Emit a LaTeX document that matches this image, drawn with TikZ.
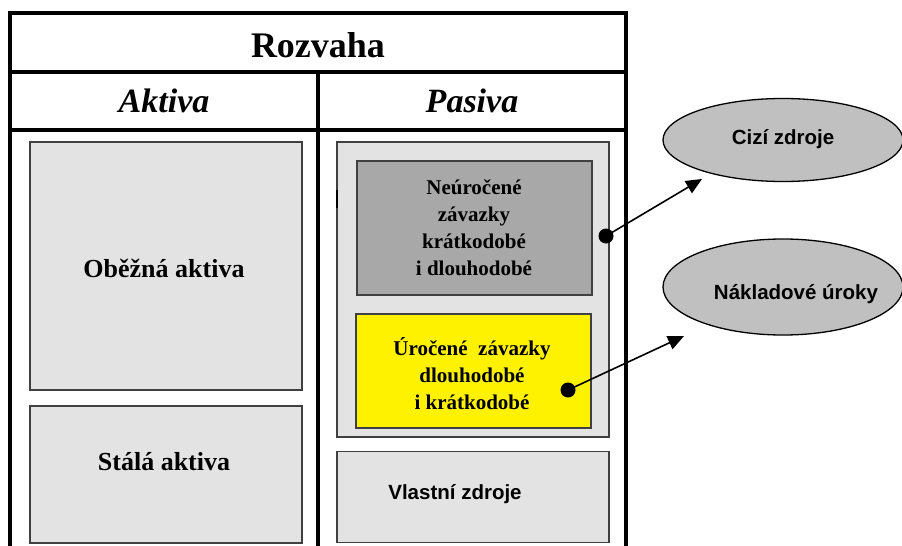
\documentclass[tikz,border=0pt]{standalone}
\usepackage{fontspec}
\setmainfont{Liberation Serif}
\setsansfont{Liberation Sans}
\usetikzlibrary{arrows.meta}
\definecolor{lightbox}{HTML}{E3E3E3}
\definecolor{darkbox}{HTML}{A8A8A8}
\definecolor{ellfill}{HTML}{C0C0C0}
\definecolor{boxline}{HTML}{404040}
\tikzset{
  frame/.style={line width=3.5pt, black},
  panel/.style={draw=boxline, line width=1.3pt, rectangle, inner sep=0pt},
  serifbig/.style={font=\bfseries\fontsize{36}{40}\selectfont, inner sep=0pt},
  serifhead/.style={font=\bfseries\itshape\fontsize{34}{38}\selectfont, inner sep=0pt},
  serifmid/.style={font=\bfseries\fontsize{26}{30}\selectfont, inner sep=0pt},
  seriftxt/.style={font=\bfseries\fontsize{21}{27}\selectfont, align=center, inner sep=0pt},
  sanstxt/.style={font=\sffamily\bfseries\fontsize{20.5}{24}\selectfont, inner sep=0pt},
  oval/.style={draw=black, line width=1.3pt, fill=ellfill, ellipse},
  dotmark/.style={circle, fill=black, inner sep=0pt, minimum size=15pt},
  conn/.style={line width=1.6pt, -{Triangle[length=16pt,width=14pt]}},
}
\usetikzlibrary{shapes.geometric}
\begin{document}
\begin{tikzpicture}[x=1pt,y=-1pt]
\clip (0,0) rectangle (902,546);
\fill[white] (0,0) rectangle (902,546);
% table frame
\draw[frame] (10,546) -- (10,13) -- (626,13) -- (626,546);
\draw[frame] (10,72) -- (626,72);
\draw[frame] (10,130) -- (626,130);
\draw[frame] (318,72) -- (318,546);
% headings
\node[serifbig] (title) at (318,45) {Rozvaha};
\node[serifhead] (aktiva) at (164,101) {Aktiva};
\node[serifhead] (pasiva) at (472,101) {Pasiva};
% left column
\node[panel, fill=lightbox, minimum width=272pt, minimum height=248pt] (obez) at (166,266) {};
\node[serifmid] (obeztxt) at (164,268) {Oběžná aktiva};
\node[panel, fill=lightbox, minimum width=272pt, minimum height=137pt] (stala) at (166,474.5) {};
\node[serifmid] (stalatxt) at (164,462) {Stálá aktiva};
% right column
\node[panel, fill=lightbox, minimum width=272pt, minimum height=295pt] (cizi) at (473,289.5) {};
\draw[line width=2.5pt] (337,190) -- (337,208);
\node[panel, fill=darkbox, minimum width=235pt, minimum height=134pt] (neur) at (474.5,228) {};
\node[seriftxt] (neurtxt) at (474,228) {Neúročené\\závazky\\krátkodobé\\i dlouhodobé};
\node[panel, fill=yellow, minimum width=235pt, minimum height=114pt] (uroc) at (473.5,371) {};
\node[seriftxt] (uroctxt) at (472,374) {Úročené\ \ závazky\\dlouhodobé\\i krátkodobé};
\node[panel, fill=lightbox, minimum width=272pt, minimum height=91pt] (vlast) at (473,497) {};
\node[sanstxt] (vlasttxt) at (455,494) {Vlastní zdroje};
% ellipses
\node[oval, minimum width=240pt, minimum height=83pt] (e1) at (783,140) {};
\node[sanstxt] (e1txt) at (783,139) {Cizí zdroje};
\node[oval, minimum width=240pt, minimum height=96pt] (e2) at (783,287) {};
\node[sanstxt] (e2txt) at (796,294) {Nákladové úroky};
% dots and connectors
\node[dotmark] (d1) at (606,236) {};
\node[dotmark] (d2) at (568,390) {};
\coordinate (t1) at (702,179);
\coordinate (t2) at (684,336);
\draw[conn] (d1.center) -- (t1);
\draw[conn] (d2.center) -- (t2);
\end{tikzpicture}
\end{document}
